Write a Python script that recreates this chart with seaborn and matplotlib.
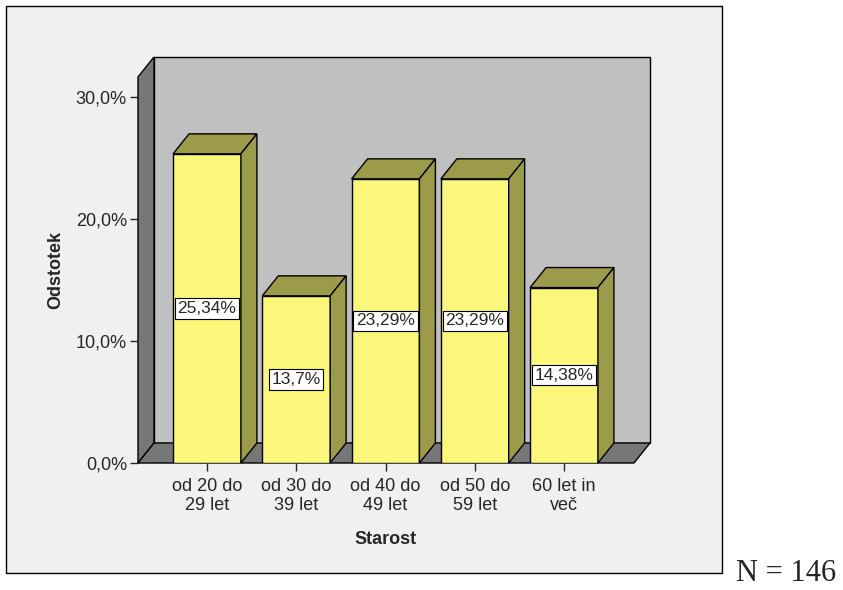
import pandas as pd
import seaborn as sns
import matplotlib.pyplot as plt
from matplotlib.patches import Polygon, Rectangle

categories = ["od 20 do\n29 let", "od 30 do\n39 let", "od 40 do\n49 let",
              "od 50 do\n59 let", "60 let in\nveč"]
percent = [25.34, 13.70, 23.29, 23.29, 14.38]
value_labels = ["25,34%", "13,7%", "23,29%", "23,29%", "14,38%"]
y_ticks = [0, 10, 20, 30]
y_tick_labels = ["0,0%", "10,0%", "20,0%", "30,0%"]
n_total = 146

front = "#faf77a"
shade = "#9c9b4a"
wall = "#777777"
back = "#c0c0c0"
panel = "#f0f0f0"

sns.set_style("white")
plt.rcParams["font.family"] = ["Liberation Sans", "DejaVu Sans"]

fig = plt.figure(figsize=(8.43, 5.90), dpi=100)
fig.patch.set_facecolor("white")
fig.add_artist(Rectangle((6 / 843, 1 - 573 / 590), 716 / 843, 567 / 590,
                         transform=fig.transFigure, fc=panel, ec="black", lw=1, zorder=0))

ax = fig.add_axes([138 / 843, 127 / 590, 496 / 843, 386 / 590])
ax.set_facecolor("none")

df = pd.DataFrame({"Starost": categories, "Odstotek": percent})
sns.barplot(data=df, x="Starost", y="Odstotek", color=front, saturation=1,
            width=0.76, edgecolor="black", linewidth=1, ax=ax, zorder=3)

xlo, xhi = -0.773, 4.784
ytop = 31.64
dx, dy = 0.179, 1.64
ax.set_xlim(xlo, xhi)
ax.set_ylim(0, ytop)

# 3d box: back wall, left wall, floor
walls = [
    ([(xlo + dx, dy), (xhi + dx, dy), (xhi + dx, ytop + dy), (xlo + dx, ytop + dy)], back),
    ([(xlo, 0), (xlo, ytop), (xlo + dx, ytop + dy), (xlo + dx, dy)], wall),
    ([(xlo, 0), (xhi, 0), (xhi + dx, dy), (xlo + dx, dy)], wall),
]
for pts, c in walls:
    ax.add_patch(Polygon(pts, closed=True, fc=c, ec="black", lw=1, clip_on=False, zorder=1))

bars = list(ax.patches)[:len(percent)]
for p, lab in zip(bars, value_labels):
    x0, w, h = p.get_x(), p.get_width(), p.get_height()
    x1 = x0 + w
    top = [(x0, h), (x1, h), (x1 + dx, h + dy), (x0 + dx, h + dy)]
    side = [(x1, 0), (x1, h), (x1 + dx, h + dy), (x1 + dx, dy)]
    for pts in (top, side):
        ax.add_patch(Polygon(pts, closed=True, fc=shade, ec="black", lw=1, clip_on=False, zorder=3))
    ax.text(x0 + w / 2, h / 2, lab, ha="center", va="center", fontsize=12.5, zorder=5,
            bbox=dict(boxstyle="square,pad=0.15", fc="white", ec="black", lw=0.8))

for s in ax.spines.values():
    s.set_visible(False)
ax.set_yticks(y_ticks, y_tick_labels)
ax.tick_params(axis="y", length=6, width=1, pad=2, labelsize=13, left=True)
ax.tick_params(axis="x", length=6, width=1, pad=5, labelsize=13, bottom=True)
for t in ax.get_xticklabels():
    t.set_linespacing(1.15)
ax.set_xlabel("Starost", fontsize=13, fontweight="bold", labelpad=12)
ax.set_ylabel("Odstotek", fontsize=13, fontweight="bold", labelpad=8)

fig.text(736 / 843, 1 - 588 / 590, f"N = {n_total}", family=["Liberation Serif"],
         fontsize=22, va="bottom")

plt.savefig("out.png", dpi=100)
